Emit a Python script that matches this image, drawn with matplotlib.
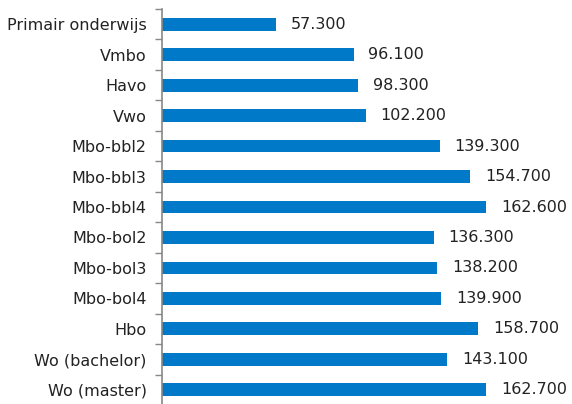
# horizontal bar chart of amounts per education level
import matplotlib.pyplot as plt
import numpy as np

labels = ['Primair onderwijs', 'Vmbo', 'Havo', 'Vwo', 'Mbo-bbl2', 'Mbo-bbl3',
          'Mbo-bbl4', 'Mbo-bol2', 'Mbo-bol3', 'Mbo-bol4', 'Hbo',
          'Wo (bachelor)', 'Wo (master)']
values = [57300, 96100, 98300, 102200, 139300, 154700, 162600, 136300,
          138200, 139900, 158700, 143100, 162700]

def nl_format(v):
    # dutch style thousands separator
    return '{:,}'.format(v).replace(',', '.')

fig = plt.figure(figsize=(5.72, 4.04), dpi=100)
ax = fig.add_axes([162/572, -1/404, 410/572, 396/404])

y = np.arange(len(labels))
ax.barh(y, values, height=0.42, color='#0079C8')
for yi, v in zip(y, values):
    ax.text(v + 7500, yi, nl_format(v), va='center', ha='left',
            fontsize=11.5, color='#222222')

ax.set_xlim(0, 205700)
ax.set_ylim(len(labels) - 0.5, -0.5)
ax.set_yticks(y)
ax.set_yticklabels(labels, fontsize=11.5, color='#222222')
ax.set_yticks(np.arange(-0.5, len(labels), 1), minor=True)
ax.tick_params(axis='y', which='major', length=0, pad=11)
ax.tick_params(axis='y', which='minor', length=5, color='#888888', width=1)
ax.set_xticks([])

for s in ['top', 'right', 'bottom']:
    ax.spines[s].set_visible(False)
ax.spines['left'].set_color('#888888')
ax.spines['left'].set_linewidth(1.2)

plt.savefig('out.png')
plt.close()
